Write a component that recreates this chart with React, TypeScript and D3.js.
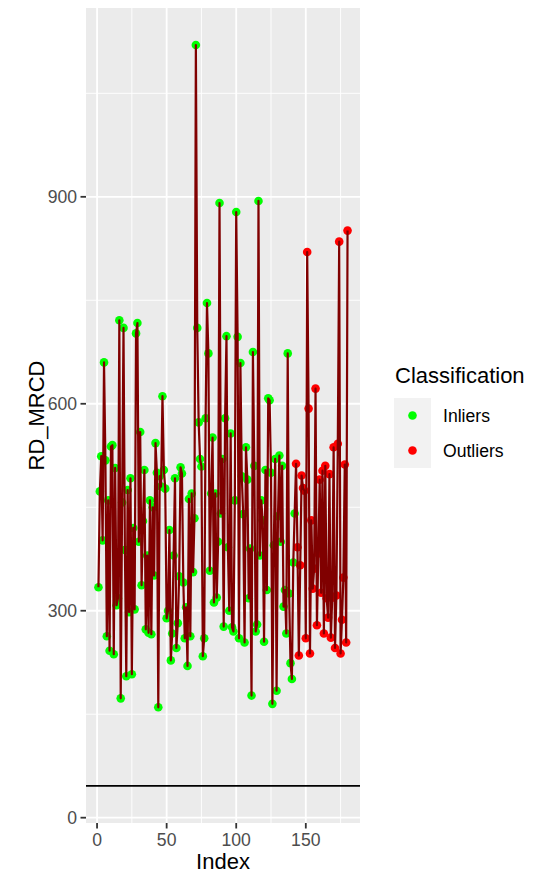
import React from "react";
import * as d3 from "d3";

// Robust distances (RD_MRCD) per observation, in index order 1..180
const inlierValues: number[] = [
  334, 473, 524, 402, 660, 518, 263, 460, 242, 538,
  540, 237, 507, 308, 318, 721, 173, 457, 710, 388,
  205, 475, 298, 492, 208, 420, 302, 702, 717, 400,
  559, 337, 430, 504, 273, 380, 268, 460, 266, 450,
  351, 543, 500, 160, 495, 480, 611, 504, 477, 289,
  300, 417, 228, 267, 380, 492, 246, 282, 350, 508,
  499, 341, 260, 305, 220, 462, 263, 470, 356, 434,
  1120, 710, 573, 520, 509, 234, 260, 579, 746, 673,
  358, 470, 551, 312, 470, 319, 400, 891, 441, 520,
  277, 579, 698, 392, 300, 557, 276, 270, 460, 878,
  697, 260, 659, 495, 440, 254, 537, 490, 318, 390,
  177, 675, 510, 270, 280, 894, 380, 460, 431, 255,
  504, 330, 608, 605, 500, 165, 395, 520, 184, 437,
  525, 400, 510, 306, 330, 267, 673, 325, 224, 201,
  370, 441,
];

const outlierValues: number[] = [
  513, 392, 235, 366, 496, 478, 474, 260, 820, 593,
  238, 431, 332, 361, 622, 279, 383, 490, 326, 503,
  267, 510, 318, 290, 498, 261, 319, 537, 246, 322,
  542, 835, 238, 287, 348, 512, 254, 851,
];

const cutoff = 46;
const classes = ["Inliers", "Outliers"];
const classColors = ["#00FF00", "#FF0000"];
const yTicks = [0, 300, 600, 900];
const yMinor = [150, 450, 750, 1050];
const xTicks = [0, 50, 100, 150];
const xMinor = [25, 75, 125, 175];

type Pt = { index: number; value: number; cls: number };
const points: Pt[] = [
  ...inlierValues.map((v, i) => ({ index: i + 1, value: v, cls: 0 })),
  ...outlierValues.map((v, i) => ({ index: inlierValues.length + i + 1, value: v, cls: 1 })),
];

const FONT = "'Liberation Sans', Arial, Helvetica, sans-serif";

export default function App() {
  const W = 538;
  const H = 875;
  const panel = { left: 86, right: 360, top: 8, bottom: 823 };

  const xExt = d3.extent(points, (d) => d.index) as [number, number];
  const xPad = (xExt[1] - xExt[0]) * 0.05;
  const x = d3
    .scaleLinear()
    .domain([xExt[0] - xPad, xExt[1] + xPad])
    .range([panel.left, panel.right]);

  const yLo = Math.min(cutoff, d3.min(points, (d) => d.value) as number);
  const yHi = Math.max(cutoff, d3.max(points, (d) => d.value) as number);
  const yPad = (yHi - yLo) * 0.05;
  const y = d3
    .scaleLinear()
    .domain([yLo - yPad, yHi + yPad])
    .range([panel.bottom, panel.top]);

  const line = d3
    .line<Pt>()
    .x((d) => x(d.index))
    .y((d) => y(d.value));

  const tickColor = "#333333";
  const labelColor = "#4D4D4D";

  return (
    <svg width={W} height={H} style={{ position: "absolute", left: 0, top: 0 }} fontFamily={FONT}>
      <rect x={0} y={0} width={W} height={H} fill="#FFFFFF" />
      {/* panel */}
      <rect
        x={panel.left}
        y={panel.top}
        width={panel.right - panel.left}
        height={panel.bottom - panel.top}
        fill="#EBEBEB"
      />
      {yMinor.map((t) => (
        <line key={"ym" + t} x1={panel.left} x2={panel.right} y1={y(t)} y2={y(t)} stroke="#FFFFFF" strokeWidth={0.9} />
      ))}
      {xMinor.map((t) => (
        <line key={"xm" + t} x1={x(t)} x2={x(t)} y1={panel.top} y2={panel.bottom} stroke="#FFFFFF" strokeWidth={0.9} />
      ))}
      {yTicks.map((t) => (
        <line key={"yg" + t} x1={panel.left} x2={panel.right} y1={y(t)} y2={y(t)} stroke="#FFFFFF" strokeWidth={1.8} />
      ))}
      {xTicks.map((t) => (
        <line key={"xg" + t} x1={x(t)} x2={x(t)} y1={panel.top} y2={panel.bottom} stroke="#FFFFFF" strokeWidth={1.8} />
      ))}

      {/* observations */}
      {points.map((d) => (
        <circle key={"p" + d.index} cx={x(d.index)} cy={y(d.value)} r={4.3} fill={classColors[d.cls]} />
      ))}
      <path d={line(points) || ""} fill="none" stroke="#800000" strokeWidth={2.2} strokeLinejoin="round" />

      {/* cutoff */}
      <line x1={panel.left} x2={panel.right} y1={y(cutoff)} y2={y(cutoff)} stroke="#000000" strokeWidth={1.8} />

      {/* y axis */}
      {yTicks.map((t) => (
        <g key={"yt" + t}>
          <line x1={panel.left - 5.5} x2={panel.left} y1={y(t)} y2={y(t)} stroke={tickColor} strokeWidth={1.8} />
          <text x={panel.left - 9} y={y(t)} dy="0.36em" textAnchor="end" fontSize={17.6} fill={labelColor}>
            {t}
          </text>
        </g>
      ))}
      {/* x axis */}
      {xTicks.map((t) => (
        <g key={"xt" + t}>
          <line x1={x(t)} x2={x(t)} y1={panel.bottom} y2={panel.bottom + 5.5} stroke={tickColor} strokeWidth={1.8} />
          <text x={x(t)} y={panel.bottom + 23} textAnchor="middle" fontSize={17.6} fill={labelColor}>
            {t}
          </text>
        </g>
      ))}
      <text x={(panel.left + panel.right) / 2} y={869} textAnchor="middle" fontSize={22} fill="#000000">
        Index
      </text>
      <text
        transform={`translate(44,${(panel.top + panel.bottom) / 2}) rotate(-90)`}
        textAnchor="middle"
        fontSize={22}
        fill="#000000"
      >
        RD_MRCD
      </text>

      {/* legend */}
      <text x={395} y={383} fontSize={22} fill="#000000">
        Classification
      </text>
      {classes.map((c, i) => (
        <g key={c} transform={`translate(394,${398 + i * 35})`}>
          <rect x={0} y={0} width={37} height={35} fill="#F2F2F2" />
          <circle cx={18.5} cy={17.5} r={4.3} fill={classColors[i]} />
          <text x={49} y={17.5} dy="0.36em" fontSize={17.6} fill="#000000">
            {c}
          </text>
        </g>
      ))}
    </svg>
  );
}
